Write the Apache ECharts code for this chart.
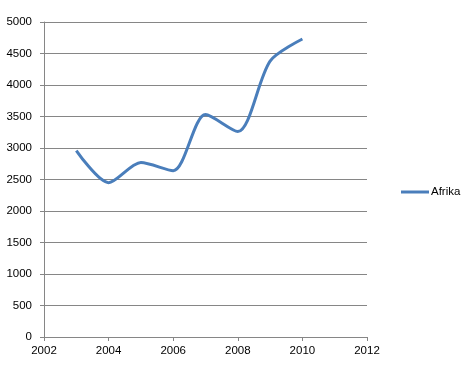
<!DOCTYPE html>
<html>
<head>
<meta charset="utf-8">
<script src="https://cdn.jsdelivr.net/npm/echarts@6/dist/echarts.min.js"></script>
<style>html,body{margin:0;padding:0;background:#fff}#c{width:467px;height:372px}</style>
</head>
<body>
<div id="c"></div>
<script>
var years = [2003, 2004, 2005, 2006, 2007, 2008, 2009, 2010];
var afrika = [2960, 2450, 2770, 2640, 3530, 3260, 4380, 4730];
var seriesName = 'Afrika';

var chart = echarts.init(document.getElementById('c'), null, {renderer: 'canvas'});
var font = 'Liberation Sans';
chart.setOption({
  animation: false,
  backgroundColor: '#fff',
  grid: {left: 44, right: 100, top: 22, bottom: 35, containLabel: false},
  legend: {
    data: [{name: seriesName, icon: 'rect'}],
    orient: 'vertical',
    left: 396, top: 181,
    itemWidth: 28, itemHeight: 3, itemGap: 5,
    textStyle: {fontFamily: font, fontSize: 11.5, color: '#000', padding: [0,0,0,-3]}
  },
  xAxis: {
    type: 'value', min: 2002, max: 2012, interval: 2,
    axisLine: {show: true, lineStyle: {color: '#868686', width: 1}},
    axisTick: {show: true, length: 4, lineStyle: {color: '#868686'}},
    splitLine: {show: false},
    axisLabel: {margin: 8, fontFamily: font, fontSize: 11.5, color: '#000', formatter: function(v){return String(v);}}
  },
  yAxis: {
    type: 'value', min: 0, max: 5000, interval: 500,
    axisLine: {show: true, lineStyle: {color: '#868686', width: 1}},
    axisTick: {show: true, length: 4, lineStyle: {color: '#868686'}},
    splitLine: {show: true, lineStyle: {color: '#868686', width: 1}},
    axisLabel: {margin: 12, fontFamily: font, fontSize: 11.5, color: '#000', formatter: function(v){return String(v);}}
  },
  series: [{
    name: seriesName,
    type: 'line',
    smooth: 0.28,
    showSymbol: false,
    symbol: 'none',
    data: years.map(function(y, i){return [y, afrika[i]];}),
    lineStyle: {color: '#4A7EBB', width: 3},
    itemStyle: {color: '#4A7EBB'}
  }]
});
</script>
</body>
</html>
